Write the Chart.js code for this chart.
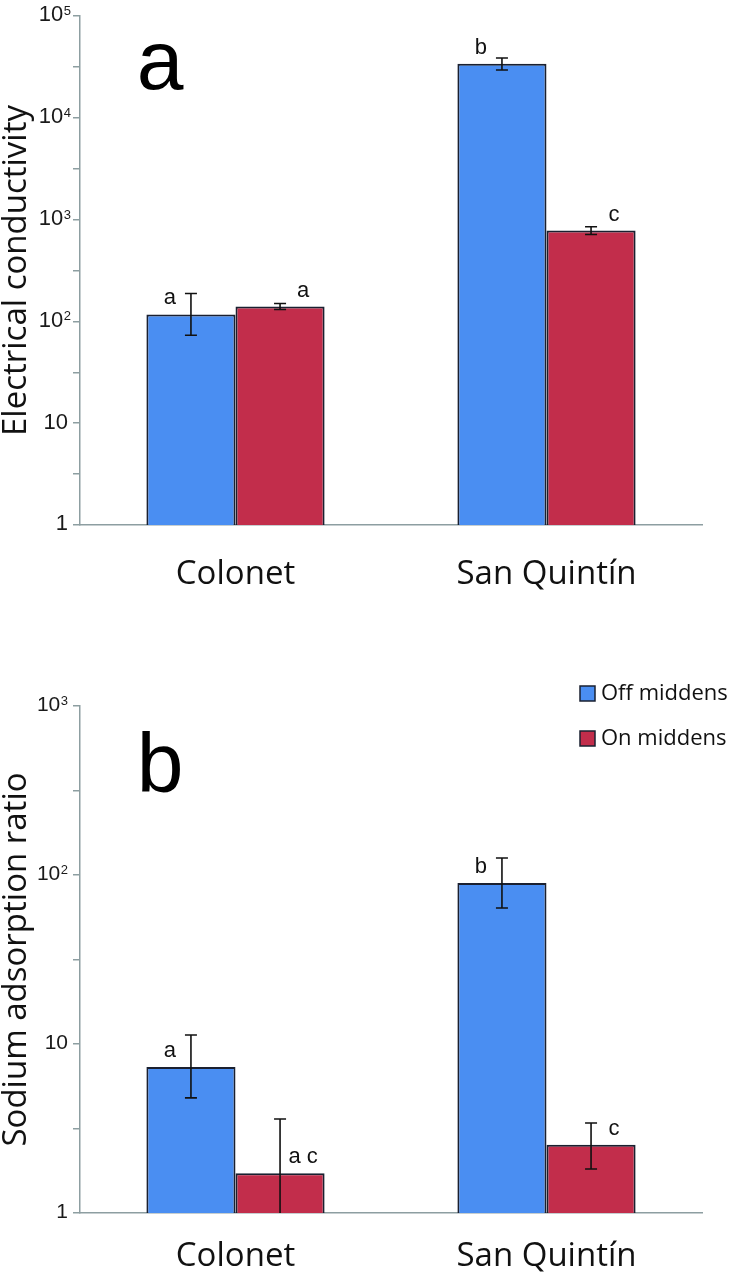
<!DOCTYPE html>
<html>
<head>
<meta charset="utf-8">
<script src="https://cdn.jsdelivr.net/npm/chart.js@4.4.1/dist/chart.umd.min.js"></script>
<style>
  html, body { margin: 0; padding: 0; background: #fff; }
  canvas { display: block; }
</style>
</head>
<body>
<canvas id="ec" width="736" height="640"></canvas>
<canvas id="sar" width="736" height="640"></canvas>
<script>
const sites = ['Colonet', 'San Quintín'];
const seriesNames = ['Off middens', 'On middens'];

// panel a - electrical conductivity
const ecOff = [117, 33900];
const ecOn = [140, 780];
const ecOffLow = [73, 29500];
const ecOffHigh = [188, 38700];
const ecOnLow = [131, 713];
const ecOnHigh = [150, 852];
const ecOffLetters = ['a', 'b'];
const ecOnLetters = ['a', 'c'];
const ecTicks = [1, 3.162, 10, 31.62, 100, 316.2, 1000, 3162, 10000, 31623, 100000];
const ecLabelValues = [1, 10, 100, 1000, 10000, 100000];
const ecLabelExp = ['', '', '2', '3', '4', '5'];

// panel b - sodium adsorption ratio
const sarOff = [7.3, 89.7];
const sarOn = [1.72, 2.53];
const sarOffLow = [4.8, 63.8];
const sarOffHigh = [11.3, 126];
const sarOnLow = [0.5, 1.82];
const sarOnHigh = [3.6, 3.41];
const sarOffLetters = ['a', 'b'];
const sarOnLetters = ['a c', 'c'];
const sarTicks = [1, 3.162, 10, 31.62, 100, 316.2, 1000];
const sarLabelValues = [1, 10, 100, 1000];
const sarLabelExp = ['', '', '2', '3'];

const BLUE = '#4a8ef2';
const RED = '#c22d4b';
const EDGE = '#1a2030';
const AXIS = '#8d9ea1';

// error bars, significance letters, log tick labels, panel letter, legend
const deco = {
  id: 'deco',
  afterDatasetsDraw(chart, args, o) {
    const {ctx, chartArea} = chart;
    const y = chart.scales.y;
    ctx.save();
    ctx.strokeStyle = '#111';
    ctx.lineWidth = 1.6;
    o.errors.forEach((e, i) => {
      chart.getDatasetMeta(i).data.forEach((bar, j) => {
        const top = y.getPixelForValue(e.high[j]);
        let bot = y.getPixelForValue(e.low[j]);
        const clipped = bot > chartArea.bottom;
        if (clipped) bot = chartArea.bottom;
        ctx.beginPath();
        ctx.moveTo(bar.x, top); ctx.lineTo(bar.x, bot);
        ctx.moveTo(bar.x - 6, top); ctx.lineTo(bar.x + 6, top);
        if (!clipped) { ctx.moveTo(bar.x - 6, bot); ctx.lineTo(bar.x + 6, bot); }
        ctx.stroke();
      });
    });
    ctx.fillStyle = '#111';
    ctx.font = '22px "Liberation Sans", Arial, sans-serif';
    ctx.textAlign = 'center';
    ctx.textBaseline = 'alphabetic';
    o.letters.forEach((l, i) => {
      const dx = i === 0 ? -21 : 23;
      chart.getDatasetMeta(i).data.forEach((bar, j) => {
        ctx.fillText(l[j], bar.x + dx, bar.y - 10);
      });
    });
    ctx.restore();
  },
  afterDraw(chart, args, o) {
    const {ctx} = chart;
    const y = chart.scales.y;
    ctx.save();
    ctx.fillStyle = '#1a1a1a';
    ctx.textBaseline = 'alphabetic';
    const fs = o.tickSize;
    const ss = Math.round(fs * 0.6);
    o.labelValues.forEach((v, i) => {
      const py = y.getPixelForValue(v);
      const base = py - 2.5 + 0.358 * fs;
      const exp = o.labelExp[i];
      ctx.font = fs + 'px "Liberation Sans", Arial, sans-serif';
      ctx.textAlign = 'right';
      const txt = v === 1 ? '1' : '10';
      if (!exp) {
        ctx.fillText(txt, 68, base);
      } else {
        ctx.font = ss + 'px "Liberation Sans", Arial, sans-serif';
        const sw = ctx.measureText(exp).width;
        ctx.fillText(exp, o.supRight, base - 0.716 * fs + 0.716 * ss);
        ctx.font = fs + 'px "Liberation Sans", Arial, sans-serif';
        ctx.fillText(txt, o.supRight - sw - 0.5, base);
      }
    });
    ctx.font = '84px "Liberation Sans", Arial, sans-serif';
    ctx.textAlign = 'center';
    ctx.fillStyle = '#000';
    ctx.fillText(o.panel, 160, o.panelBaseline);
    if (o.legend) {
      ctx.font = '22px "Open Sans", sans-serif';
      ctx.textAlign = 'left';
      ctx.textBaseline = 'middle';
      chart.data.datasets.forEach((ds, i) => {
        const ly = 46 + i * 45;
        ctx.fillStyle = ds.backgroundColor;
        ctx.fillRect(580, ly, 15, 15);
        ctx.strokeStyle = EDGE;
        ctx.lineWidth = 1.5;
        ctx.strokeRect(580, ly, 15, 15);
        ctx.fillStyle = '#111';
        ctx.fillText(ds.label, 601, ly + 7.5);
      });
    }
    ctx.restore();
  }
};

function makeChart(id, c) {
  return new Chart(document.getElementById(id), {
    type: 'bar',
    data: {
      labels: sites,
      datasets: [
        { label: seriesNames[0], data: c.off, backgroundColor: BLUE, borderColor: EDGE, borderWidth: 2 },
        { label: seriesNames[1], data: c.on, backgroundColor: RED, borderColor: EDGE, borderWidth: 2 }
      ]
    },
    options: {
      responsive: false,
      animation: false,
      devicePixelRatio: 1,
      layout: { padding: { top: c.top, right: 34, left: 0, bottom: 0 } },
      datasets: { bar: { barPercentage: 1, categoryPercentage: 0.573 } },
      plugins: {
        legend: { display: false },
        tooltip: { enabled: false },
        deco: {
          errors: [{ low: c.offLow, high: c.offHigh }, { low: c.onLow, high: c.onHigh }],
          letters: [c.offLetters, c.onLetters],
          labelValues: c.labelValues,
          labelExp: c.labelExp,
          tickSize: c.tickSize,
          supRight: c.supRight,
          panel: c.panel,
          panelBaseline: c.panelBaseline,
          legend: c.legend
        }
      },
      scales: {
        x: {
          afterFit: s => { s.height = c.xHeight; },
          grid: { display: false, drawTicks: false },
          border: { display: true, color: AXIS, width: 1.5 },
          ticks: { color: '#111', padding: c.xPad, font: { family: '"Open Sans", sans-serif', size: 33, lineHeight: 1 } }
        },
        y: {
          type: 'logarithmic',
          min: 1,
          max: c.max,
          afterFit: s => { s.width = 80; },
          afterBuildTicks: s => { s.ticks = c.ticks.map(v => ({ value: v })); },
          grid: { drawOnChartArea: false, drawTicks: true, tickLength: 7, color: AXIS, lineWidth: 1.5 },
          border: { display: true, color: AXIS, width: 1.5 },
          ticks: { display: false },
          title: {
            display: true,
            text: c.title,
            color: '#111',
            padding: 0,
            font: { family: '"Open Sans", sans-serif', size: 33, lineHeight: 1 }
          }
        }
      }
    },
    plugins: [deco]
  });
}

makeChart('ec', {
  off: ecOff, on: ecOn, offLow: ecOffLow, offHigh: ecOffHigh, onLow: ecOnLow, onHigh: ecOnHigh,
  offLetters: ecOffLetters, onLetters: ecOnLetters,
  ticks: ecTicks, labelValues: ecLabelValues, labelExp: ecLabelExp,
  max: 100000, top: 16, xHeight: 115, xPad: 33, tickSize: 22, supRight: 71,
  title: 'Electrical conductivity', panel: 'a', panelBaseline: 89, legend: false
});

makeChart('sar', {
  off: sarOff, on: sarOn, offLow: sarOffLow, offHigh: sarOffHigh, onLow: sarOnLow, onHigh: sarOnHigh,
  offLetters: sarOffLetters, onLetters: sarOnLetters,
  ticks: sarTicks, labelValues: sarLabelValues, labelExp: sarLabelExp,
  max: 1000, top: 66, xHeight: 67, xPad: 27, tickSize: 21, supRight: 68,
  title: 'Sodium adsorption ratio', panel: 'b', panelBaseline: 152, legend: true
});
</script>
</body>
</html>
